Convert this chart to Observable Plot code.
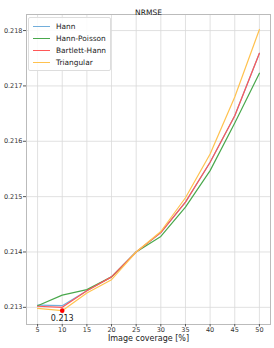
<!DOCTYPE html>
<html><head><meta charset="utf-8">
<script src="https://cdn.jsdelivr.net/npm/d3@7"></script>
<script src="https://cdn.jsdelivr.net/npm/@observablehq/plot@0.6"></script>
<style>
body{margin:0;background:#fff;font-family:"DejaVu Sans",sans-serif;}
#wrap{position:relative;width:274px;height:348px;}
#legend{position:absolute;left:28px;top:17px;padding:2px 4px 2px 0;border:1px solid #ddd;border-radius:2px;background:rgba(255,255,255,0.85);font-size:7.4px;color:#222;white-space:nowrap;}
.row{display:flex;align-items:center;height:12px;}
.sw{width:17px;height:0;border-top:1.3px solid;margin:0 6px 0 4px;}
</style></head>
<body><div id="wrap"></div>
<script>
const coverage = [5,10,15,20,25,30,35,40,45,50];
const hann        = [0.21304,0.21303,0.21330,0.21355,0.21400,0.21435,0.21490,0.21562,0.21646,0.21759];
const hannPoisson = [0.21303,0.21322,0.21332,0.21355,0.21400,0.21428,0.21481,0.21547,0.21633,0.21723];
const bartlett    = [0.21302,0.21300,0.21330,0.21355,0.21400,0.21435,0.21490,0.21562,0.21646,0.21759];
const triangular  = [0.21298,0.21294,0.21326,0.21350,0.21400,0.21437,0.21498,0.21577,0.21680,0.21802];
const seriesNames = ["Hann","Hann-Poisson","Bartlett-Hann","Triangular"];
const seriesColors = ["#72aedb","#49a84c","#ff5757","#ffc24f"];
const xTicks = [5,10,15,20,25,30,35,40,45,50];
const yTicks = [0.213,0.214,0.215,0.216,0.217,0.218];
const minPoint = {x:10, y:0.21294, label:"0.213"};
const title = "NRMSE";
const xLabel = "Image coverage [%]";

const values = [hann,hannPoisson,bartlett,triangular];
const rows = [];
seriesNames.forEach((s,i)=>coverage.forEach((c,j)=>rows.push({series:s,x:c,y:values[i][j]})));

const chart = Plot.plot({
  width:274, height:348,
  marginLeft:26, marginRight:4, marginTop:14, marginBottom:24,
  style:{fontFamily:"DejaVu Sans, sans-serif", fontSize:"6.5px", color:"#333", background:"#fff"},
  x:{domain:[2.75,52.25]},
  y:{domain:[0.21269,0.21829]},
  color:{domain:seriesNames, range:seriesColors},
  marks:[
    Plot.gridX(xTicks,{stroke:"#d9d9d9",strokeOpacity:1,strokeWidth:0.8}),
    Plot.gridY(yTicks,{stroke:"#d9d9d9",strokeOpacity:1,strokeWidth:0.8}),
    Plot.frame({stroke:"#bbb",strokeWidth:1}),
    Plot.axisX({ticks:xTicks,tickSize:2.5,tickPadding:0,label:null,stroke:"#555"}),
    Plot.axisY({ticks:yTicks,tickSize:3,tickPadding:1,tickFormat:d3.format(".3f"),label:null,stroke:"#555"}),
    Plot.line(rows,{x:"x",y:"y",z:"series",stroke:"series",strokeWidth:1.2}),
    Plot.dot([minPoint],{x:"x",y:"y",r:2.3,fill:"#ff0000",stroke:null}),
    Plot.text([minPoint],{x:"x",y:"y",text:"label",dy:8,fontSize:8,fill:"#222"}),
    Plot.text([title],{frameAnchor:"top",dy:-5,fontSize:7.5,fill:"#222"}),
    Plot.text([xLabel],{frameAnchor:"bottom",dy:16.5,fontSize:8,fill:"#222"})
  ]
});
const wrap = document.getElementById("wrap");
wrap.appendChild(chart);
const lg = document.createElement("div");
lg.id="legend";
seriesNames.forEach((s,i)=>{
  const r=document.createElement("div");r.className="row";
  const sw=document.createElement("span");sw.className="sw";sw.style.borderColor=seriesColors[i];
  const t=document.createElement("span");t.textContent=s;
  r.appendChild(sw);r.appendChild(t);lg.appendChild(r);
});
wrap.appendChild(lg);
</script></body></html>
